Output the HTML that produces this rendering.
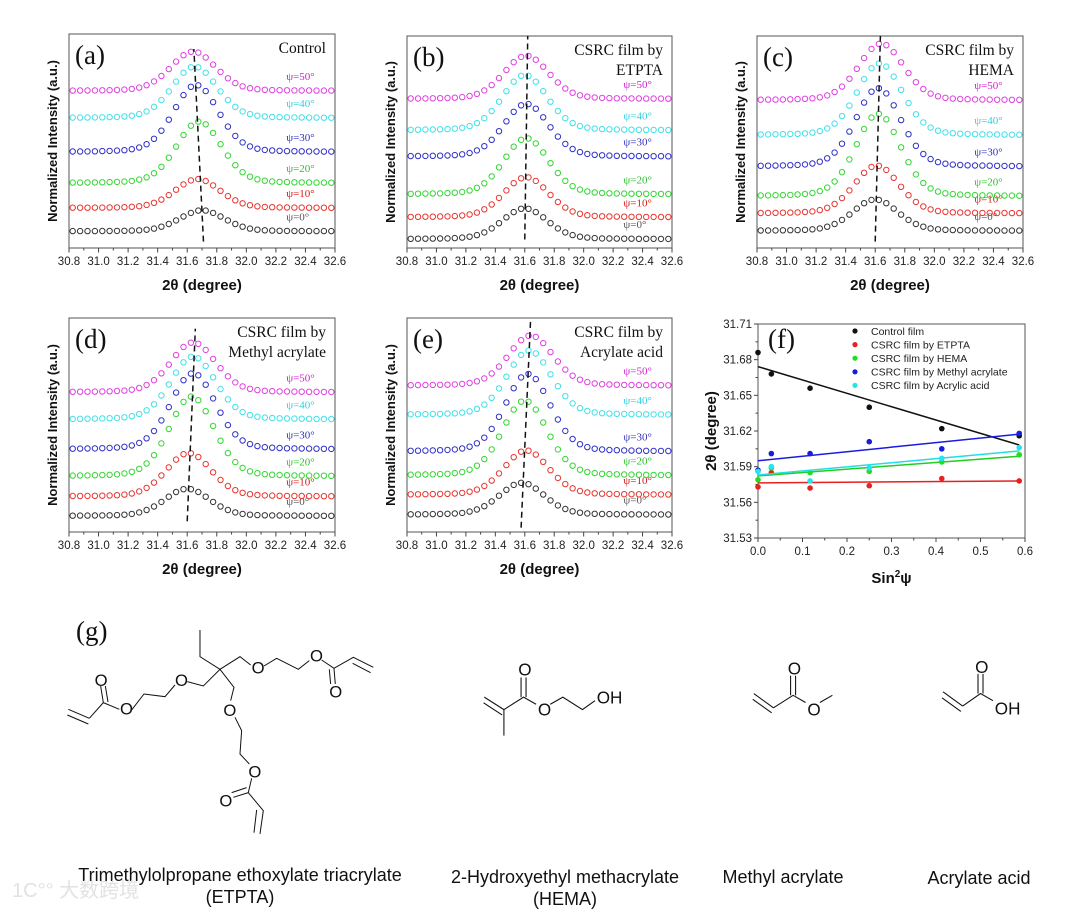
<!DOCTYPE html>
<html><head><meta charset="utf-8">
<style>
html,body{margin:0;padding:0;background:#fff;}
#wrap{position:relative;width:1080px;height:914px;overflow:hidden;}
svg text{font-family:"Liberation Sans",sans-serif;}
.serif{font-family:"Liberation Serif",serif !important;}
</style></head>
<body>
<div id="wrap">
<svg id="fig" width="1080" height="914" viewBox="0 0 1080 914">
<g id="panels"></g>
<g id="chem" stroke="#111" stroke-width="3" fill="none" transform="translate(60,610) scale(0.3333)">
  <polyline points="25,298 88,325"/><polyline points="22,315 85,342" />
  <polyline points="88,325 130,278 178,298"/>
  <polyline points="130,278 122,228"/><polyline points="144,276 136,228"/>
  <polyline points="215,300 252,252 315,260 345,225"/>
  <polyline points="382,215 430,228 480,178 420,140 420,60"/>
  <polyline points="480,178 540,140 572,165"/>
  <polyline points="612,168 650,145 715,178 748,152"/>
  <polyline points="785,150 822,175 880,142 940,172"/>
  <polyline points="878,160 932,188"/>
  <polyline points="822,175 826,222"/><polyline points="808,178 812,222"/>
  <polyline points="480,178 522,232 512,272"/>
  <polyline points="525,322 545,362 540,432 568,462"/>
  <polyline points="575,505 565,548 610,602 600,672"/>
  <polyline points="590,600 582,668"/>
  <polyline points="565,548 520,562"/><polyline points="560,533 515,548"/>
</g>
<g fill="#111" font-size="50" transform="translate(60,610) scale(0.3333)">
  <text x="104" y="228">O</text><text x="180" y="313">O</text><text x="345" y="228">O</text>
  <text x="575" y="190">O</text><text x="750" y="155">O</text><text x="808" y="262">O</text>
  <text x="490" y="318">O</text><text x="565" y="502">O</text><text x="478" y="590">O</text>
</g>
<g stroke="#111" stroke-width="3" fill="none" transform="translate(470,640) scale(0.357)">
  <polyline points="40,160 95,195"/><polyline points="38,176 90,210"/>
  <polyline points="95,268 95,195 150,160 185,180"/>
  <polyline points="143,160 143,105"/><polyline points="157,160 157,105"/>
  <polyline points="225,180 260,160 315,195 350,170"/>
  <polyline points="795,150 850,190"/><polyline points="792,166 845,204"/>
  <polyline points="850,190 905,155 940,175"/>
  <polyline points="898,155 898,100"/><polyline points="912,155 912,100"/>
  <polyline points="980,175 1015,155"/>
  <polyline points="1325,145 1380,185"/><polyline points="1322,162 1375,200"/>
  <polyline points="1380,185 1430,150 1465,170"/>
  <polyline points="1423,150 1423,95"/><polyline points="1437,150 1437,95"/>
</g>
<g fill="#111" font-size="48" transform="translate(470,640) scale(0.357)">
  <text x="135" y="100">O</text><text x="190" y="212">O</text><text x="355" y="178">OH</text>
  <text x="890" y="96">O</text><text x="945" y="212">O</text>
  <text x="1415" y="92">O</text><text x="1470" y="208">OH</text>
</g>
<text class="serif" x="76" y="640" font-size="27" fill="#111">(g)</text>
<g font-size="18" fill="#111" text-anchor="middle">
  <text x="240" y="881">Trimethylolpropane ethoxylate triacrylate</text>
  <text x="240" y="903">(ETPTA)</text>
  <text x="565" y="883">2-Hydroxyethyl methacrylate</text>
  <text x="565" y="905">(HEMA)</text>
  <text x="783" y="883">Methyl acrylate</text>
  <text x="979" y="884">Acrylate acid</text>
</g>
<text x="12" y="897" font-size="20" fill="#e2e2e2" font-family="Liberation Sans, Noto Sans CJK SC, sans-serif">1C°° 大数跨境</text>
</svg>
</div>
<script>
// ---- XRD panels data ----
var psiLabels = ["ψ=0°","ψ=10°","ψ=20°","ψ=30°","ψ=40°","ψ=50°"];
var xTicks = [30.8,31.0,31.2,31.4,31.6,31.8,32.0,32.2,32.4,32.6];
// per panel: baselines, peak heights (normalized 0-100), peak centers (2θ)
var baseA=[7.8,18.7,30.3,44.8,60.7,73.4], peakA=[17.6,32.2,59.1,76.2,84.8,91.8], cenA=[31.70,31.67,31.68,31.66,31.65,31.64];
var baseB=[4.2,14.5,25.3,43.1,55.5,70.3], peakB=[18.7,33.4,51.8,68.0,81.6,90.7], cenB=[31.60,31.61,31.61,31.61,31.60,31.61];
var baseC=[8.1,16.3,24.4,38.4,53.2,69.7], peakC=[22.9,38.9,63.3,75.4,87.1,96.4], cenC=[31.60,31.61,31.62,31.62,31.63,31.64];
var baseD=[7.5,16.6,26.0,38.6,52.6,65.3], peakD=[20.2,36.9,63.3,74.2,82.0,88.6], cenD=[31.60,31.61,31.63,31.64,31.64,31.64];
var baseE=[8.1,17.4,26.4,37.6,54.7,68.4], peakE=[23.0,38.1,61.4,73.9,84.8,91.8], cenE=[31.58,31.61,31.60,31.62,31.63,31.64];
// dashed guide line endpoints [x0,y0,x1,y1] in data units
var dashA=[31.71,3,31.645,93], dashB=[31.60,4,31.62,100], dashC=[31.60,3,31.635,100], dashD=[31.60,5,31.655,95], dashE=[31.575,2,31.64,100];
// ---- panel f data ----
var sinPsi=[0,0.030,0.117,0.25,0.413,0.587];
var fControl=[31.686,31.668,31.656,31.640,31.622,31.616];
var fETPTA=[31.573,31.585,31.572,31.574,31.580,31.578];
var fHEMA=[31.579,31.589,31.585,31.586,31.594,31.600];
var fMethyl=[31.587,31.601,31.601,31.611,31.605,31.618];
var fAcrylic=[31.586,31.590,31.578,31.589,31.597,31.606];
var fNames=["Control film","CSRC film by ETPTA","CSRC film by HEMA","CSRC film by Methyl acrylate","CSRC film by Acrylic acid"];
var fYTicks=[31.53,31.56,31.59,31.62,31.65,31.68,31.71];
var fXTicks=[0,0.1,0.2,0.3,0.4,0.5,0.6];

var NS="http://www.w3.org/2000/svg";
var root=document.getElementById('panels');
var curveCols=["#333","#e8352f","#33d633","#3030c8","#40e0e8","#e040e0"];
var labCols=["#555","#d81818","#2ec02e","#3333bb","#30d0e0","#d020d0"];
function mk(tag,attrs,parent){var e=document.createElementNS(NS,tag);for(var k in attrs)e.setAttribute(k,attrs[k]);(parent||root).appendChild(e);return e;}
function txt(s,attrs,parent){var e=mk('text',attrs,parent);e.textContent=s;return e;}
function shape(d){var w=0.18,r=d/w;return 0.8*Math.exp(-Math.LN2*r*r)+0.2/(1+r*r);}

function xrdPanel(id,L,T,R,B,bases,peaks,cens,dash,title1,title2){
  var g=mk('g',{});
  
  
  var sx=function(v){return L+(v-30.8)/1.8*(R-L);};
  var sy=function(v){return B-v/100*(B-T);};
  var fr=mk('rect',{x:L,y:T,width:R-L,height:B-T,fill:'none',stroke:'#555','stroke-width':1},g);
  
  
  for(var t=0;t<=18;t++){var xv=30.8+t*0.1,xp=sx(xv);mk('line',{x1:xp,x2:xp,y1:B,y2:B+(t%2?2.5:4.5),stroke:'#444','stroke-width':1},g);}
  xTicks.forEach(function(v){var tl=txt(v.toFixed(1),{x:sx(v),y:B+17,'font-size':11.5,'text-anchor':'middle',fill:'#222'},g);
    
    });
  var xt=txt('2θ (degree)',{x:(L+R)/2,y:B+42,'font-size':15,'font-weight':'bold','text-anchor':'middle',fill:'#111'},g);
  
  
  var yt=txt('Normalized Intensity (a.u.)',{x:0,y:0,'font-size':13,'font-weight':'bold','text-anchor':'middle',fill:'#111',transform:'translate('+(L-12)+','+((T+B)/2)+') rotate(-90)'},g);
  
  
  for(var i=0;i<6;i++){
    var sg=mk('g',{fill:'none',stroke:curveCols[i],'stroke-width':1},g);
    
    
    for(var x=30.825;x<32.6;x+=0.05){
      var v=bases[i]+(peaks[i]-bases[i])*shape(x-cens[i]);
      mk('circle',{cx:sx(x).toFixed(1),cy:sy(v).toFixed(1),r:2.7},sg);
    }
    var lb=txt(psiLabels[i],{x:sx(32.27),y:sy(bases[i])-11,'font-size':11,fill:labCols[i],'class':'serif'},g);
    
    
  }
  var dl=mk('line',{x1:sx(dash[0]),y1:sy(dash[1]),x2:sx(dash[2]),y2:sy(dash[3]),stroke:'#111','stroke-width':1.5,'stroke-dasharray':'6,4'},g);
  
  
  var pl=txt('('+id+')',{x:L+6,y:T+30,'font-size':27,fill:'#111','class':'serif'},g);
  
  
  var t1=txt(title1,{x:R-9,y:T+19,'font-size':15.5,'text-anchor':'end',fill:'#111','class':'serif'},g);
  
  
  if(title2){var t2=txt(title2,{x:R-9,y:T+39,'font-size':15.5,'text-anchor':'end',fill:'#111','class':'serif'},g);
    
    }
}
xrdPanel('a',69,34,335,248,baseA,peakA,cenA,dashA,'Control',null);
xrdPanel('b',407,36,672,248,baseB,peakB,cenB,dashB,'CSRC film by','ETPTA');
xrdPanel('c',757,36,1023,248,baseC,peakC,cenC,dashC,'CSRC film by','HEMA');
xrdPanel('d',69,318,335,532,baseD,peakD,cenD,dashD,'CSRC film by','Methyl acrylate');
xrdPanel('e',407,318,672,532,baseE,peakE,cenE,dashE,'CSRC film by','Acrylate acid');

// ---- panel f ----
(function(){
  var L=758,T=324,R=1025,B=538;
  var g=mk('g',{});
  
  
  var sx=function(v){return L+v/0.6*(R-L);};
  var sy=function(v){return B-(v-31.53)/0.18*(B-T);};
  var fr=mk('rect',{x:L,y:T,width:R-L,height:B-T,fill:'none',stroke:'#555','stroke-width':1},g);
  
  
  fYTicks.forEach(function(v,i){var y=sy(v);mk('line',{x1:L-4,x2:L,y1:y,y2:y,stroke:'#444'},g);
    if(i<fYTicks.length-1)mk('line',{x1:L-2.5,x2:L,y1:sy(v+0.015),y2:sy(v+0.015),stroke:'#444'},g);
    var tl=txt(v.toFixed(2),{x:L-6,y:y+4,'font-size':11.5,'text-anchor':'end',fill:'#222'},g);
    
    });
  fXTicks.forEach(function(v,i){var x=sx(v);mk('line',{x1:x,x2:x,y1:B,y2:B+4,stroke:'#444'},g);
    if(i<fXTicks.length-1)mk('line',{x1:sx(v+0.05),x2:sx(v+0.05),y1:B,y2:B+2.5,stroke:'#444'},g);
    var tl=txt(String(v.toFixed(1)),{x:x,y:B+17,'font-size':11.5,'text-anchor':'middle',fill:'#222'},g);
    
    });
  var xt=txt('',{x:(L+R)/2,y:B+45,'font-size':15,'font-weight':'bold','text-anchor':'middle',fill:'#111'},g);
  xt.innerHTML='Sin<tspan dy="-6" font-size="10">2</tspan><tspan dy="6">ψ</tspan>';
  
  
  var yt=txt('2θ (degree)',{x:0,y:0,'font-size':15,'font-weight':'bold','text-anchor':'middle',fill:'#111',transform:'translate('+(L-42)+','+((T+B)/2)+') rotate(-90)'},g);
  
  
  var series=[fControl,fETPTA,fHEMA,fMethyl,fAcrylic];
  var cols=["#111","#e82020","#22dd22","#1a1ae0","#22e6ee"];
  var lineCols=["#111","#e82020","#22cc22","#1a1ae0","#22dde8"];
  series.forEach(function(s,k){
    var n=sinPsi.length,mx=0,my=0;for(var i=0;i<n;i++){mx+=sinPsi[i];my+=s[i];}mx/=n;my/=n;
    var num=0,den=0;for(i=0;i<n;i++){num+=(sinPsi[i]-mx)*(s[i]-my);den+=(sinPsi[i]-mx)*(sinPsi[i]-mx);}
    var b=num/den,a=my-b*mx;
    var ln=mk('line',{x1:sx(0),y1:sy(a),x2:sx(0.587),y2:sy(a+b*0.587),stroke:lineCols[k],'stroke-width':1.5},g);
    
    
    for(i=0;i<n;i++){var c=mk('circle',{cx:sx(sinPsi[i]),cy:sy(s[i]),r:2.8,fill:cols[k]},g);
      
      }
    var ly=331+k*13.6;
    var ld=mk('circle',{cx:855,cy:ly,r:2.6,fill:cols[k]},g);
    
    
    var lt=txt(fNames[k],{x:871,y:ly+3.8,'font-size':10.5,fill:'#222'},g);
    
    
  });
  var pl=txt('(f)',{x:L+10,y:T+24,'font-size':27,fill:'#111','class':'serif'},g);
  
  
})();
</script>
</body></html>
